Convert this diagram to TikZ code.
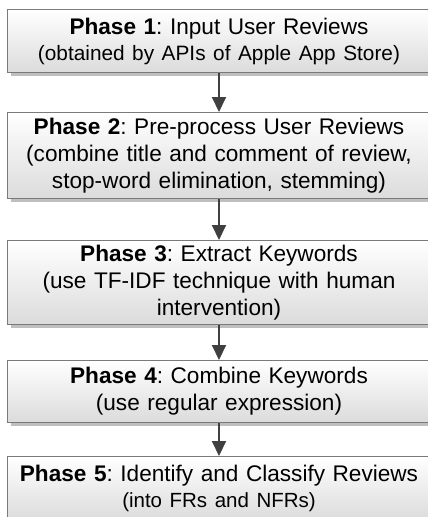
\documentclass[tikz,border=0pt]{standalone}
\usepackage{fontspec}
\setmainfont{Liberation Sans}
\frenchspacing
\usetikzlibrary{arrows.meta,shadows}
\definecolor{edge}{HTML}{7A7A7A}
\definecolor{arrowc}{HTML}{404040}
\begin{document}
\begin{tikzpicture}[x=1pt,y=-1pt,
  phasebox/.style={draw=edge, line width=1pt, rectangle, anchor=north west,
    top color=white, bottom color=black!14, minimum width=423pt,
    text width=415pt, align=center, inner sep=0pt,
    font=\frenchspacing\fontsize{22.6}{27}\selectfont,
    drop shadow={shadow xshift=3pt, shadow yshift=-3pt, fill=black!25, opacity=1}},
  flow/.style={draw=arrowc, line width=2pt, -{Triangle[length=15pt,width=14pt]}}]
\useasboundingbox (0,0) rectangle (428,517);
\fill[white] (0,0) rectangle (428,517);
\node[phasebox, minimum height=63pt] (b1) at (7,9)
  {\textbf{Phase 1}: Input User Reviews\\[-1pt]{\fontsize{20.8}{25}\selectfont (obtained by APIs of Apple App Store)}};
\node[phasebox, minimum height=86pt] (b2) at (7,112)
  {\textbf{Phase 2}: Pre-process User Reviews\\(combine title and comment of review,\\stop-word elimination, stemming)};
\node[phasebox, minimum height=84pt] (b3) at (7,240)
  {\textbf{Phase 3}: Extract Keywords\\(use TF-IDF technique with human\\intervention)};
\node[phasebox, minimum height=62pt] (b4) at (7,360)
  {\textbf{Phase 4}: Combine Keywords\\(use regular expression)};
\node[phasebox, minimum height=64pt] (b5) at (7,456)
  {\textbf{Phase 5}: Identify and Classify Reviews\\[-1pt]{\fontsize{20.5}{25}\selectfont (into FRs and NFRs)}};
\draw[flow] (b1.south) -- (b2.north);
\draw[flow] (b2.south) -- (b3.north);
\draw[flow] (b3.south) -- (b4.north);
\draw[flow] (b4.south) -- (b5.north);
\end{tikzpicture}
\end{document}
